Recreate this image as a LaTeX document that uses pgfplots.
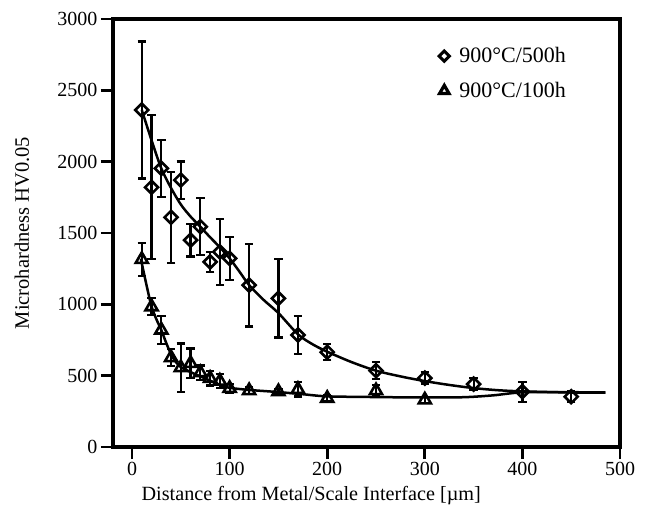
\documentclass[border=0pt]{standalone}
\usepackage{fontspec}
\setmainfont{Liberation Serif}
\usepackage{pgfplots}
\pgfplotsset{compat=1.18}
\pgfplotstableread{
x y ey
10 2362 480
20 1820 505
30 1953 200
40 1610 320
50 1871 130
60 1450 115
70 1544 200
80 1298 70
90 1368 230
100 1322 150
120 1135 290
150 1042 275
170 785 135
200 665 55
250 535 60
300 483 40
350 441 40
400 388 70
450 353 40
}\diamonddata
\pgfplotstableread{
x y ey
10 1315 115
20 983 60
30 820 100
40 626 60
50 556 170
60 586 105
70 521 50
80 481 50
90 462 50
100 411 30
120 395 25
150 388 20
170 404 50
200 341 20
250 395 40
300 330 20
}\triangledata
\pgfplotstableread{
x y
10 2362
20 2150
30 1953
40 1815
50 1700
60 1615
70 1544
80 1470
90 1400
100 1322
110 1230
120 1135
135 1030
150 939
170 790
185 720
200 668
225 595
250 535
275 495
300 462
325 435
350 413
375 398
400 390
450 382
485 381
}\diamondfit
\pgfplotstableread{
x y
9 1320
15 1130
20 985
25 895
30 820
35 730
40 650
45 595
50 560
60 525
70 495
80 465
90 435
100 415
120 400
150 385
175 370
200 355
250 350
300 347
340 349
370 362
400 383
450 384
485 382
}\trianglefit
\begin{document}
\begin{tikzpicture}[font=\fontsize{20bp}{24bp}\selectfont]
\useasboundingbox (-113bp,-70bp) rectangle (536bp,447bp);
\begin{axis}[
  at={(0,0)}, anchor=south west,
  scale only axis, width=507bp, height=428bp,
  xmin=-19.5, xmax=500, ymin=0, ymax=3000,
  xtick={0,100,...,500}, ytick={0,500,...,3000},
  xtick pos=left, ytick pos=left, tick align=outside,
  major tick length=12bp,
  axis line style={line width=4.5bp, line cap=rect},
  every tick/.style={black, line width=2.8bp},
  /pgf/number format/assume math mode=true,
  /pgf/number format/1000 sep={},
  xlabel={Distance from Metal/Scale Interface [µm]},
  ylabel={Microhardness HV0.05},
  every axis x label/.style={at={(rel axis cs:0.391,-0.124)}, anchor=base, font=\fontsize{20.2bp}{24bp}\selectfont},
  every axis y label/.style={at={(rel axis cs:-0.1795,0.5)}, rotate=90, anchor=center, font=\fontsize{20.5bp}{24bp}\selectfont},
  legend style={draw=none, fill=none, at={(rel axis cs:0.643,0.938)}, anchor=north west,
    inner sep=0pt, row sep=14bp, font=\fontsize{22bp}{26bp}\selectfont,
    /tikz/every odd column/.append style={column sep=8bp}},
  legend cell align=left,
  legend image code/.code={\draw[#1] plot coordinates {(0bp,0bp)};},
  error bars/error bar style={line width=2.2bp, black},
  error bars/error mark options={rotate=90, mark size=4.2bp, line width=2.2bp, black},
]
\addplot[black, line width=2.5bp, smooth, no markers, forget plot] table[x=x,y=y] {\diamondfit};
\addplot[black, line width=2.5bp, smooth, no markers, forget plot] table[x=x,y=y] {\trianglefit};
\addplot[black, only marks, mark=square, mark size=4.6bp,
  mark options={solid, fill=white, line width=2.6bp, rotate=45},
  legend image post style={mark size=3.6bp, mark options={solid, fill=white, line width=3bp, rotate=45}},
  error bars/.cd, y dir=both, y explicit]
  table[x=x, y=y, y error=ey] {\diamonddata};
\addlegendentry{900°C/500h}
\addplot[black, only marks, mark=triangle, mark size=7bp,
  mark options={solid, fill=white, line width=2.6bp},
  legend image post style={mark size=5.5bp, mark options={solid, fill=white, line width=3.2bp}},
  error bars/.cd, y dir=both, y explicit]
  table[x=x, y=y, y error=ey] {\triangledata};
\addlegendentry{900°C/100h}
\end{axis}
\end{tikzpicture}
\end{document}
